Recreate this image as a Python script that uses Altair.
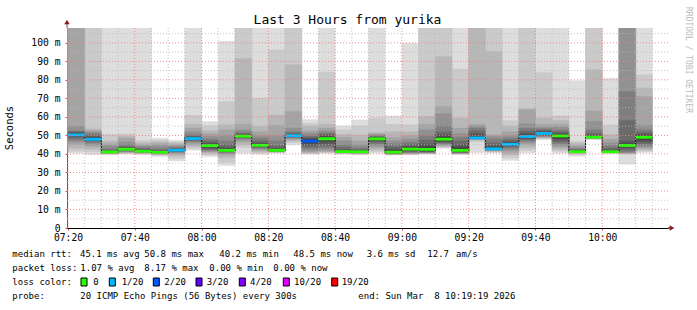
import altair as alt
import pandas as pd

MONO = "DejaVu Sans Mono"

# ---------------- data ----------------
times = ["07:20", "07:25", "07:30", "07:35", "07:40", "07:45", "07:50", "07:55",
         "08:00", "08:05", "08:10", "08:15", "08:20", "08:25", "08:30", "08:35",
         "08:40", "08:45", "08:50", "08:55", "09:00", "09:05", "09:10", "09:15",
         "09:20", "09:25", "09:30", "09:35", "09:40", "09:45", "09:50", "09:55",
         "10:00", "10:05", "10:10"]

pings = [
    [40.4, 41.5, 43, 45, 46.5, 47.5, 48.5, 49.3, 49.8, 50.1, 50.5, 51, 51.5, 52, 52.5, 55, 110, 112, 115, 120],
    [39.6, 41, 42.5, 44, 45, 46, 46.8, 47.3, 47.6, 47.8, 48, 48.5, 49.3, 50, 51, 51.8, 52.5, 53.5, 112, 118],
    [39.5, 40, 40.2, 40.4, 40.5, 40.6, 40.7, 40.8, 40.9, 41, 41.1, 41.3, 41.6, 42, 43, 44.5, 45.5, 47, 50.5, 115],
    [40, 40.3, 40.6, 40.9, 41.2, 41.5, 41.8, 42.1, 42.3, 42.4, 42.6, 42.9, 43.3, 44, 45, 46.5, 48.5, 49.5, 50.8, 115],
    [39.6, 40, 40.3, 40.6, 40.8, 41, 41.1, 41.2, 41.3, 41.4, 41.5, 41.8, 42.2, 42.8, 43.5, 44.2, 45, 46, 47.2, 115],
    [38.6, 39.3, 39.7, 40, 40.2, 40.4, 40.5, 40.6, 40.7, 40.8, 40.9, 41.1, 41.4, 42, 43, 44.5, 45.5, 46.5, 47.5, 48.5],
    [36.2, 37.5, 39, 40, 40.6, 41, 41.3, 41.5, 41.7, 41.9, 42.1, 42.3, 42.6, 43, 43.6, 44.3, 45, 45.8, 46.5, 47.4],
    [42, 43, 44, 45, 46, 46.8, 47.3, 47.7, 48, 48.2, 48.4, 48.7, 49.2, 49.8, 50.5, 52, 54, 56, 61, 115],
    [38.5, 39.5, 40.5, 41, 41.5, 42, 42.5, 43, 43.8, 44.3, 44.7, 45.3, 46, 47, 48, 49.5, 51, 52.5, 55.2, 57.5],
    [33.7, 35.5, 38, 39.5, 40.3, 40.8, 41.1, 41.4, 41.6, 41.8, 42, 42.5, 43.5, 45, 47, 50, 53, 55.7, 68.3, 100.8],
    [40.3, 43.5, 45, 46.5, 47.5, 48.3, 48.8, 49.1, 49.3, 49.5, 49.7, 50, 50.5, 51, 51.8, 53, 56, 91.5, 112, 118],
    [39.8, 40.5, 41.2, 42, 42.6, 43.1, 43.6, 44, 44.3, 44.5, 44.8, 45.3, 46, 47, 48.5, 50, 52, 55, 70, 115],
    [40.3, 40.8, 41, 41.2, 41.4, 41.5, 41.6, 41.7, 41.8, 41.9, 42, 42.3, 43, 44.5, 47, 50, 55.5, 61, 96.2, 115],
    [44.9, 46, 47, 47.8, 48.4, 48.8, 49.1, 49.4, 49.6, 49.8, 50, 50.3, 50.7, 51.3, 52, 54, 63, 88.1, 112, 118],
    [39.9, 40.2, 40.5, 41, 41.8, 42.8, 43.8, 44.8, 45.8, 46.6, 47.2, 47.8, 48.5, 49.3, 50.2, 51.3, 52.5, 55, 56.5, 58.6],
    [40.3, 40.6, 41, 41.5, 42.3, 43.2, 44.3, 45.5, 46.8, 47.8, 48.6, 49.3, 50, 50.7, 51.5, 52.5, 54, 56, 84.2, 115],
    [39.8, 40.1, 40.4, 40.6, 40.7, 40.8, 40.9, 41, 41.1, 41.2, 41.3, 41.6, 42.2, 43.5, 45, 47, 49, 50.5, 53, 55.2],
    [39.5, 39.9, 40.2, 40.4, 40.6, 40.7, 40.8, 40.9, 41, 41.1, 41.2, 41.4, 41.8, 42.5, 43.5, 45, 47, 50, 55, 58.4],
    [40.4, 41.3, 42.3, 43.3, 44.3, 45.3, 46.2, 47, 47.6, 48, 48.3, 48.6, 48.9, 49.3, 49.8, 50.3, 50.8, 51.5, 59.3, 115],
    [39.4, 39.6, 39.8, 40, 40.1, 40.2, 40.3, 40.4, 40.6, 40.8, 41.1, 41.8, 42.8, 44, 45.5, 47, 49, 52, 56, 60.5],
    [39.6, 39.8, 40, 40.2, 40.5, 40.8, 41.2, 41.6, 42, 42.4, 42.8, 43.5, 44.3, 45.3, 46.5, 48, 50, 52, 55.7, 99.8],
    [39.9, 40.1, 40.3, 40.5, 40.7, 40.9, 41.1, 41.4, 41.7, 42.1, 42.8, 44, 45.5, 47.5, 50, 53, 56, 60.2, 112, 118],
    [43, 43.5, 44, 44.5, 45, 45.5, 46, 46.5, 47, 47.6, 48.3, 49.3, 50.5, 52, 55, 61.6, 65.6, 92.6, 112, 118],
    [39.7, 39.9, 40.1, 40.3, 40.5, 40.7, 40.9, 41.1, 41.3, 41.6, 42.2, 43.5, 45, 47, 49, 51, 54, 59.3, 85.9, 115],
    [40.7, 46.5, 47.5, 47.8, 48, 48.2, 48.3, 48.4, 48.5, 48.6, 48.7, 49.5, 51, 52.5, 54, 55, 56, 112, 116, 120],
    [40.5, 41, 41.4, 41.7, 42, 42.2, 42.4, 42.5, 42.6, 42.7, 42.8, 43.5, 44.5, 46, 48, 49.5, 50.3, 95.3, 112, 118],
    [36.5, 38, 39.5, 40.8, 42, 43, 43.8, 44.4, 44.9, 45.1, 45.3, 45.8, 46.5, 47.5, 48.5, 50, 52, 55, 58, 115],
    [40.5, 42, 43.5, 45, 46, 47, 47.7, 48.3, 48.8, 49.2, 49.6, 50.3, 51.3, 52.5, 54, 56.2, 63.8, 64.5, 112, 118],
    [47.6, 48.2, 48.6, 49, 49.3, 49.7, 50, 50.3, 50.6, 50.9, 51.2, 51.7, 52.2, 52.8, 53.5, 54.5, 56, 59.3, 84, 115],
    [40.4, 41.5, 42.5, 43.5, 44.5, 45.5, 46.5, 47.5, 48.5, 49.5, 50, 50.6, 51.2, 52, 53, 54.5, 56, 58, 60.5, 115],
    [38.8, 39.8, 40.3, 40.6, 40.8, 40.9, 41, 41.1, 41.15, 41.2, 41.3, 41.5, 41.8, 42.2, 42.8, 43.5, 44.5, 45.8, 46.7, 79.5],
    [47.8, 48, 48.2, 48.4, 48.5, 48.6, 48.7, 48.8, 48.9, 49, 49.1, 49.6, 50.3, 51.2, 53, 57.5, 63.2, 85.4, 112, 118],
    [40.3, 40.5, 40.6, 40.7, 40.8, 40.9, 41, 41.05, 41.1, 41.15, 41.2, 41.5, 42.2, 43.1, 44.5, 46, 48, 50.5, 55.7, 80.9],
    [34.4, 40, 40.2, 40.4, 40.6, 41, 42, 43, 43.8, 44.3, 44.8, 45.5, 47, 58, 73.7, 110, 112, 114, 116, 120],
    [40.7, 41.5, 42.3, 43, 43.8, 44.6, 45.5, 46.5, 47.6, 48.7, 49.3, 50, 50.8, 51.7, 53, 55.5, 71, 75.5, 82.7, 115],
]

loss = ["1/20", "1/20", "0", "0", "0", "0", "1/20", "1/20",
        "0", "0", "0", "0", "0", "1/20", "2/20", "0",
        "0", "0", "0", "0", "0", "0", "0", "0",
        "1/20", "1/20", "1/20", "1/20", "1/20", "0", "0", "0",
        "0", "0", "0"]

loss_labels = ["0", "1/20", "2/20", "3/20", "4/20", "10/20", "19/20"]
loss_colors = ["#26ff00", "#00b8ff", "#0059ff", "#5e00ff", "#7e00ff", "#dd00ff", "#ff0000"]
smoke_colors = ["#dddddd", "#cacaca", "#b7b7b7", "#a4a4a4", "#919191",
                "#7e7e7e", "#6b6b6b", "#585858", "#454545", "#323232"]

x_tick_labels = ["07:20", "07:40", "08:00", "08:20", "08:40", "09:00", "09:20", "09:40", "10:00"]
y_tick_values = [0, 10, 20, 30, 40, 50, 60, 70, 80, 90, 100]

stats_line1 = [("median rtt:", 12.3), ("45.1 ms avg", 80.0), ("50.8 ms max", 144.3),
               ("40.2 ms min", 219.3), ("48.5 ms now", 293.3), ("3.6 ms sd", 366.7),
               ("12.7", 427.3), ("am/s", 456.0)]
stats_line2 = [("packet loss:", 12.3), ("1.07 % avg", 80.3), ("8.17 % max", 144.3),
               ("0.00 % min", 209.3), ("0.00 % now", 273.3)]
legend_pos = [(81, 93.3), (109.3, 121.7), (153.3, 164.3), (196, 206.7),
              (239.3, 250), (283.3, 294), (331.7, 341.7)]
probe_text = "20 ICMP Echo Pings (56 Bytes) every 300s"
end_text = "end: Sun Mar\u00a0\u00a08 10:19:19 2026"
title_text = "Last 3 Hours from yurika"

# ---------------- geometry ----------------
PL, PT = 67, 28          # plot origin in the page
W, H = 601, 200
XDOM = [-0.3, 179.7]     # minutes after 07:20
YDOM = [0, 108]
FS = 9                   # legend font size


def tmin(s):
    h, m = s.split(":")
    return int(h) * 60 + int(m) - 440


smoke_rows, med_rows = [], []
for t, p, l in zip(times, pings, loss):
    s = sorted(p)
    m0 = tmin(t)
    for i in range(10):
        smoke_rows.append({"t0": m0, "t1": m0 + 5, "lo": s[i], "hi": s[19 - i],
                           "band": i, "col": smoke_colors[i]})
    med = (s[9] + s[10]) / 2
    med_rows.append({"t0": m0, "t1": m0 + 5, "med": med, "lo": med - 0.75,
                     "hi": med + 0.75, "col": loss_colors[loss_labels.index(l)]})

smoke_df = pd.DataFrame(smoke_rows).sort_values(["band", "t0"]).reset_index(drop=True)
med_df = pd.DataFrame(med_rows)
line_df = pd.concat([med_df[["t0", "med"]],
                     pd.DataFrame({"t0": [med_df["t1"].iloc[-1]], "med": [med_df["med"].iloc[-1]]})],
                    ignore_index=True)

xs = alt.Scale(domain=XDOM, nice=False, zero=False)
ys = alt.Scale(domain=YDOM, nice=False, zero=False)

label_arr = "[" + ",".join("'%s'" % s for s in x_tick_labels) + "]"

x_axis = alt.Axis(values=list(range(0, 161, 20)), labelExpr=label_arr + "[round(datum.value/20)]",
                  labelFont=MONO, labelFontSize=9.7, labelColor="black", ticks=True,
                  tickSize=2, tickColor="#d05050", labelPadding=2, domainColor="black",
                  domainWidth=1, grid=False, title=None, labelBaseline="top",
                  labelOverlap=False, labelFlush=False)
y_axis = alt.Axis(values=y_tick_values,
                  labelExpr="datum.value == 0 ? '0' : datum.value + ' m'",
                  labelFont=MONO, labelFontSize=9.7, labelColor="black", ticks=True,
                  tickSize=2, tickColor="#d05050", labelPadding=5, domainColor="#555555",
                  domainWidth=1, grid=False, title=None, labelOverlap=False, labelFlush=False,
                  labelBound=False)

smoke = alt.Chart(smoke_df).mark_rect(clip=True, strokeWidth=0.4).encode(
    x=alt.X("t0:Q", scale=xs, axis=x_axis),
    x2="t1:Q",
    y=alt.Y("lo:Q", scale=ys, axis=y_axis),
    y2="hi:Q",
    color=alt.Color("col:N", scale=None),
    stroke=alt.Stroke("col:N", scale=None),
)

med_line = alt.Chart(line_df).mark_line(interpolate="step-after", color="#202020",
                                        strokeWidth=1).encode(
    x=alt.X("t0:Q", scale=xs, axis=None), y=alt.Y("med:Q", scale=ys, axis=None))

med_band = alt.Chart(med_df).mark_rect().encode(
    x=alt.X("t0:Q", scale=xs, axis=None), x2="t1:Q",
    y=alt.Y("lo:Q", scale=ys, axis=None), y2="hi:Q",
    color=alt.Color("col:N", scale=None))

# grid lines (drawn on top like rrdtool)
vminor = pd.DataFrame({"v": [m for m in range(0, 180, 5) if m % 20 != 0]})
vmajor = pd.DataFrame({"v": list(range(0, 180, 20))})
hminor = pd.DataFrame({"v": [v for v in range(5, 108, 5) if v % 10 != 0]})
hmajor = pd.DataFrame({"v": list(range(10, 108, 10))})

grid = alt.layer(
    alt.Chart(vminor).mark_rule(color="#b8b8b8", strokeDash=[1, 2], strokeWidth=1, opacity=0.8).encode(
        x=alt.X("v:Q", scale=xs, axis=None)),
    alt.Chart(hminor).mark_rule(color="#b8b8b8", strokeDash=[1, 2], strokeWidth=1, opacity=0.8).encode(
        y=alt.Y("v:Q", scale=ys, axis=None)),
    alt.Chart(vmajor).mark_rule(color="#f08080", strokeDash=[1, 2], strokeWidth=1, opacity=0.9).encode(
        x=alt.X("v:Q", scale=xs, axis=None)),
    alt.Chart(hmajor).mark_rule(color="#f08080", strokeDash=[1, 2], strokeWidth=1, opacity=0.9).encode(
        y=alt.Y("v:Q", scale=ys, axis=None)),
).resolve_axis(x="independent", y="independent")


def txt(s, px, py, size=FS, color="black", align="left", baseline="middle", angle=0):
    return alt.Chart(pd.DataFrame({"s": [s]})).mark_text(
        align=align, baseline=baseline, font=MONO, fontSize=size, color=color,
        angle=angle).encode(x=alt.value(px - PL), y=alt.value(py - PT), text="s:N")


def box(px, py, color):
    return alt.Chart(pd.DataFrame({"c": [color]})).mark_rect(
        stroke="black", strokeWidth=1).encode(
        x=alt.value(px - PL), x2=alt.value(px - PL + 6),
        y=alt.value(py - PT - 4), y2=alt.value(py - PT + 4),
        color=alt.Color("c:N", scale=None))


texts = [
    txt(title_text, 347.5, 20, size=13, align="center"),
    txt("Seconds", 10, 128, size=10.5, align="center", angle=270),
    txt("RRDTOOL / TOBI OETIKER", 688, 60, size=8, color="#bbbbbb", align="center", angle=90),
]
for s, px in stats_line1:
    texts.append(txt(s, px, 254))
for s, px in stats_line2:
    texts.append(txt(s, px, 268))
texts.append(txt("loss color:", 12.3, 282))
for (bx, tx), lab, col in zip(legend_pos, loss_labels, loss_colors):
    texts.append(box(bx, 282, col))
    texts.append(txt(lab, tx, 282))
texts.append(txt("probe:", 12.3, 296))
texts.append(txt(probe_text, 80.3, 296))
texts.append(txt(end_text, 358.3, 296))

# axis arrows
arrows = alt.layer(
    alt.Chart(pd.DataFrame({"a": [0]})).mark_rule(color="#555555").encode(
        x=alt.value(0), y=alt.value(0), y2=alt.value(-6)),
    alt.Chart(pd.DataFrame({"a": [0]})).mark_rule(color="black").encode(
        x=alt.value(W), x2=alt.value(W + 4), y=alt.value(H)),
    alt.Chart(pd.DataFrame({"a": [0]})).mark_point(shape="triangle-up", filled=True, size=30,
                                                 color="#8c1c1c", opacity=1).encode(
        x=alt.value(0), y=alt.value(-6)),
    alt.Chart(pd.DataFrame({"a": [0]})).mark_point(shape="triangle-right", filled=True, size=30,
                                                 color="#8c1c1c", opacity=1).encode(
        x=alt.value(W + 4), y=alt.value(H)),
)

chart = alt.layer(smoke, med_line, med_band, grid, arrows, *texts).resolve_axis(
    x="independent", y="independent").properties(
    width=W, height=H,
    autosize=alt.AutoSizeParams(type="none"),
    padding={"left": PL, "top": PT, "right": 697 - PL - W, "bottom": 310 - PT - H},
    background="white",
).configure_view(stroke=None).configure_axis(labelOverlap=False)

chart.save("out.html", embed_options={"renderer": "svg", "actions": False})
